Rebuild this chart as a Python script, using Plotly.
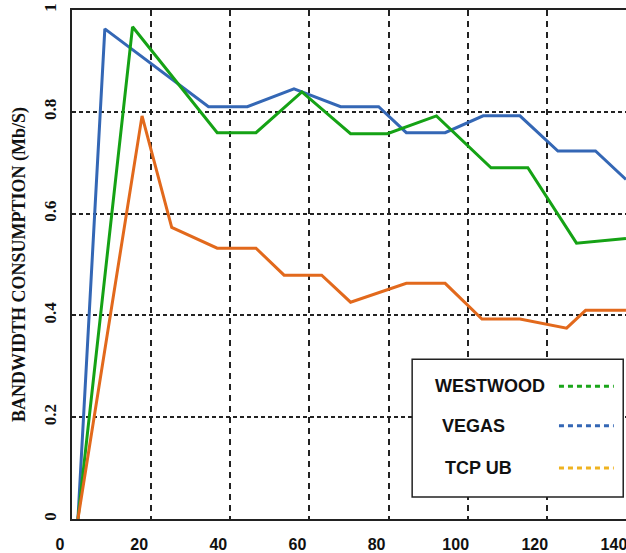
import plotly.graph_objects as go

# readings
westwood_x = [1.5, 15.3, 36.7, 46.5, 58.1, 70.4, 79.7, 92.1, 105.9, 115.2, 127.5, 140]
westwood_y = [0, 0.967, 0.759, 0.759, 0.839, 0.757, 0.757, 0.792, 0.690, 0.690, 0.542, 0.551]

vegas_x = [1.5, 8.3, 34.5, 44.3, 56.1, 67.9, 77.5, 84.5, 94.3, 103.9, 113.2, 122.8, 132.3, 140]
vegas_y = [0, 0.963, 0.810, 0.810, 0.845, 0.810, 0.810, 0.759, 0.759, 0.792, 0.792, 0.723, 0.723, 0.667]

tcpub_x = [1.5, 17.7, 25.2, 36.7, 46.5, 53.6, 63.1, 70.4, 84.5, 94.3, 103.6, 113.2, 125.0, 129.8, 140]
tcpub_y = [0, 0.792, 0.573, 0.532, 0.532, 0.479, 0.479, 0.426, 0.463, 0.463, 0.393, 0.393, 0.375, 0.410, 0.410]

x_ticks = [0, 20, 40, 60, 80, 100, 120, 140]
y_ticks = [0, 0.2, 0.4, 0.6, 0.8, 1.0]
y_ticktext = ["0", "0.2", "0.4", "0.6", "0.8", "1"]

legend_names = ["WESTWOOD", "VEGAS", "TCP UB"]
legend_colors = ["#1aa51a", "#3467b5", "#efb320"]

fig = go.Figure()

fig.add_trace(go.Scatter(x=vegas_x, y=vegas_y, mode='lines',
                         line=dict(color="#3467b5", width=3), showlegend=False))
fig.add_trace(go.Scatter(x=westwood_x, y=westwood_y, mode='lines',
                         line=dict(color="#15a215", width=3), showlegend=False))
fig.add_trace(go.Scatter(x=tcpub_x, y=tcpub_y, mode='lines',
                         line=dict(color="#e2691c", width=3), showlegend=False))

# hand-drawn legend box: text on the left, dashed sample on the right
fig.add_shape(type="rect", xref="paper", yref="paper", x0=0.614, x1=0.995, y0=0.043, y1=0.314,
              line=dict(color="#222", width=1.5), fillcolor="white", layer="above")
legend_text_x = [0.754, 0.724, 0.733]
legend_row_y = [0.261, 0.183, 0.100]
for name, col, tx, ry in zip(legend_names, legend_colors, legend_text_x, legend_row_y):
    fig.add_annotation(x=tx, y=ry, xref="paper", yref="paper", text=name, showarrow=False,
                       xanchor="center", yanchor="middle",
                       font=dict(family="Liberation Sans", size=18, color="#111", weight="bold"))
    fig.add_shape(type="line", xref="paper", yref="paper", x0=0.879, x1=0.978, y0=ry, y1=ry,
                  line=dict(color=col, width=3, dash="5px,4px"), layer="above")

fig.update_xaxes(
    range=[0, 140.01], tickvals=x_ticks, ticks="", showgrid=True,
    gridcolor="#222", gridwidth=1.5, griddash="6px,5px",
    showline=True, linecolor="#222", linewidth=2, mirror=True,
    zeroline=False, ticklabelshift=-12, ticklabelstandoff=10, ticklabeloverflow="allow",
    tickfont=dict(family="Liberation Sans", size=16, color="#111", weight="bold"),
)
fig.update_yaxes(
    range=[0, 1.0], tickvals=y_ticks, ticktext=y_ticktext, ticks="", showgrid=True,
    gridcolor="#222", gridwidth=1.5, griddash="4px,3px",
    showline=True, linecolor="#222", linewidth=2,
    zeroline=False, tickangle=-90, ticklabelstandoff=7, ticklabeloverflow="allow",
    tickfont=dict(family="Liberation Serif", size=17, color="#111", weight="bold"),
    title=dict(text="BANDWIDTH CONSUMPTION (Mb/S)", standoff=11,
               font=dict(family="Liberation Serif", size=18, color="#111", weight="bold")),
)
fig.update_layout(
    width=626, height=553,
    margin=dict(l=72, r=0, t=10, b=34),
    plot_bgcolor="white", paper_bgcolor="white",
    showlegend=False,
)

fig.write_html("out.html", config={"displayModeBar": False},
               post_script="document.body.style.margin='0';")
